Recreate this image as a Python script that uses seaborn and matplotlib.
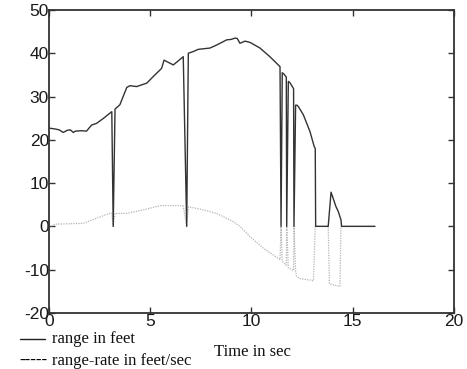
import numpy as np
import pandas as pd
import matplotlib
matplotlib.use("Agg")
import matplotlib.pyplot as plt
from matplotlib.lines import Line2D
import seaborn as sns

# Range measurement (feet) over time (s); drops to 0 mark sensor dropouts
range_t = [0.0, 0.3, 0.5, 0.7, 0.9, 1.05, 1.2, 1.3, 1.6, 1.85, 2.1, 2.35, 2.7, 3.1,
           3.17, 3.26, 3.5, 3.84, 4.0, 4.33, 4.83, 5.23, 5.56, 5.68, 6.14, 6.63,
           6.8, 6.88, 7.13, 7.37, 7.95, 8.28, 8.78, 9.0, 9.19, 9.3, 9.43, 9.68, 9.93,
           10.42, 10.91, 11.41, 11.46, 11.52, 11.6, 11.72, 11.74, 11.82, 11.9,
           12.08, 12.1, 12.18, 12.25, 12.31, 12.56, 12.89, 13.1, 13.15, 13.17,
           13.79, 13.93, 14.17, 14.29, 14.42, 14.45, 16.1]
range_ft = [22.7, 22.5, 22.3, 21.7, 22.2, 22.3, 21.7, 22.0, 22.1, 22.0, 23.4, 23.8, 25.0, 26.5,
            0.0, 27.1, 28.1, 32.1, 32.5, 32.3, 33.1, 35.0, 36.5, 38.4, 37.3, 39.2,
            0.0, 40.0, 40.4, 40.9, 41.2, 41.9, 43.1, 43.2, 43.5, 43.4, 42.3, 42.8, 42.5,
            41.2, 39.2, 36.9, 0.0, 35.5, 35.2, 34.5, 0.0, 33.5, 33.2,
            31.8, 0.0, 28.0, 28.0, 27.7, 25.8, 21.9, 18.4, 18.0, 0.0,
            0.0, 7.9, 4.6, 3.4, 1.5, 0.0, 0.0]

# Range-rate (feet/sec) over time (s)
rate_t = [0.0, 0.3, 1.0, 1.7, 2.35, 3.0, 3.1, 3.17, 3.26, 3.84, 4.66, 5.48, 6.47, 6.63,
          6.8, 6.88, 7.46, 8.28, 9.1, 9.43, 9.93, 10.58, 11.41, 11.46, 11.52, 11.72,
          11.74, 11.82, 12.08, 12.1, 12.18, 12.23, 12.4, 12.89, 13.06, 13.15, 13.79,
          13.85, 14.37, 14.42, 16.1]
rate_fps = [-0.2, 0.5, 0.6, 0.7, 1.9, 3.0, 3.0, 0.0, 3.0, 3.0, 3.8, 4.8, 4.8, 4.7,
            0.0, 4.5, 4.0, 3.0, 1.1, 0.0, -2.4, -5.0, -7.7, 0.0, -8.1, -9.0,
            0.0, -9.6, -10.2, 0.0, -10.4, -11.6, -12.1, -12.4, -12.6, 0.0, 0.0,
            -13.3, -13.9, 0.0, 0.0]

x_ticks = [0, 5, 10, 15, 20]
y_ticks = [-20, -10, 0, 10, 20, 30, 40, 50]

sns.set_theme(style="white")
plt.rcParams["font.family"] = ["Liberation Sans", "DejaVu Sans"]

fig = plt.figure(figsize=(4.67, 3.69), dpi=100)
ax = fig.add_axes([0.105, 0.152, 0.867, 0.821])

rate_df = pd.DataFrame({"t": rate_t, "v": rate_fps})
range_df = pd.DataFrame({"t": range_t, "v": range_ft})

sns.lineplot(data=rate_df, x="t", y="v", estimator=None, sort=False, ax=ax,
             color="#b4b4b4", linewidth=0.9, linestyle=(0, (1, 1)))
sns.lineplot(data=range_df, x="t", y="v", estimator=None, sort=False, ax=ax,
             color="#333333", linewidth=1.0)

ax.set_xlim(0, 20)
ax.set_ylim(-20, 50)
ax.set_xticks(x_ticks)
ax.set_yticks(y_ticks)
ax.set_xticklabels([str(v) for v in x_ticks], fontsize=12.5, color="#1a1a1a")
ax.set_yticklabels([str(v) for v in y_ticks], fontsize=12.5, color="#1a1a1a")
ax.set_xlabel("")
ax.set_ylabel("")
ax.tick_params(direction="in", length=4, width=1, color="#333333",
               top=True, right=True, bottom=True, left=True)
ax.tick_params(axis="x", pad=1)
ax.tick_params(axis="y", pad=0)
for s in ax.spines.values():
    s.set_color("#333333")
    s.set_linewidth(1.3)
    s.set_visible(True)

# Legend written as plain text lines under the axes
serif = ["Liberation Serif", "DejaVu Serif"]
fig.add_artist(Line2D([20 / 467, 45 / 467], [1 - 339 / 369, 1 - 339 / 369],
                      color="#222222", linewidth=1.0, transform=fig.transFigure))
fig.text(52 / 467, 1 - 339 / 369, "range in feet", family=serif, fontsize=12,
         va="center", ha="left", color="#111111")
fig.text(19 / 467, 1 - 361 / 369, "-----", family=serif, fontsize=12,
         fontweight="bold", va="center", ha="left", color="#000000")
fig.text(52 / 467, 1 - 361 / 369, "range-rate in feet/sec", family=serif,
         fontsize=12, va="center", ha="left", color="#111111")
fig.text(214 / 467, 1 - 352 / 369, "Time in sec", family=serif, fontsize=12,
         va="center", ha="left", color="#111111")

fig.savefig("out.png", dpi=100)
